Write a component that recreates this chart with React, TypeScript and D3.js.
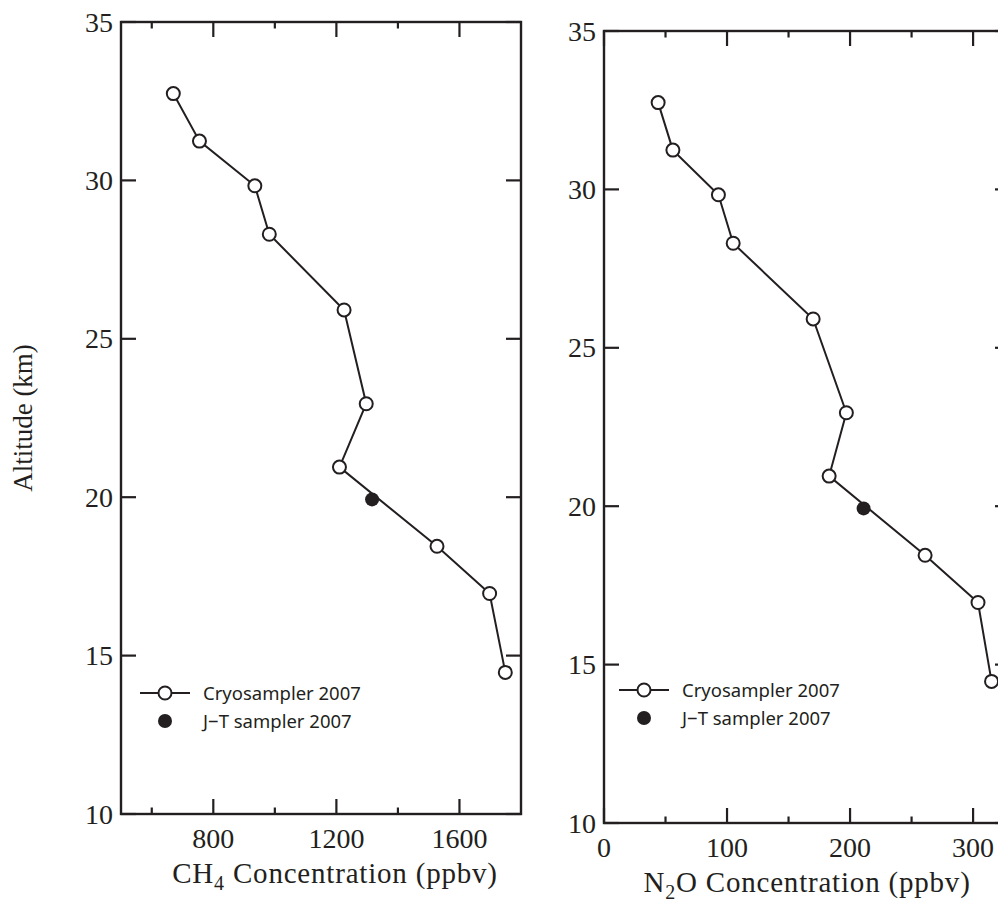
import * as d3 from "d3";

// Altitude (km) of each cryosampler sample, shared by both panels
const altitudes = [32.74, 31.24, 29.83, 28.3, 25.91, 22.95, 20.95, 18.45, 16.96, 14.47];
const ch4Cryo = [670, 755, 935, 982, 1225, 1297, 1210, 1527, 1698, 1749];
const n2oCryo = [44, 56, 93, 105, 170, 197, 183, 261, 304, 315];

// J-T sampler, one sample
const jtAltitudes = [19.93];
const ch4JT = [1316];
const n2oJT = [211];

const altTicks = [10, 15, 20, 25, 30, 35];
const ch4Major = [800, 1200, 1600];
const ch4Minor = [600, 1000, 1400];
const n2oMajor = [0, 100, 200, 300];
const n2oMinor = [50, 150, 250];

const legendLabels = ["Cryosampler 2007", "J\u2212T sampler 2007"];

const INK = "#231f20";
const SERIF = "'Liberation Serif', 'Times New Roman', serif";
const SANS = "'Noto Sans', 'Liberation Sans', sans-serif";

type PanelProps = {
    left: number;
    right: number;
    top: number;
    bottom: number;
    domain: [number, number];
    major: number[];
    minor: number[];
    values: number[];
    jt: number[];
    gas: string;
    sub: string;
    titleShift: number;
    legend: {x: number; y: number};
};

function Panel(p: PanelProps) {
    const x = d3.scaleLinear().domain(p.domain).range([p.left, p.right]);
    const y = d3.scaleLinear().domain([10, 35]).range([p.bottom, p.top]);
    const pts = p.values.map((v, i) => ({v, a: altitudes[i]}));
    const line = d3
        .line<{v: number; a: number}>()
        .x((d) => x(d.v))
        .y((d) => y(d.a));

    const majorLen = 15;
    const minorLen = 6.5;
    const cx = (p.left + p.right) / 2 + p.titleShift;

    return (
        <g>
            {/* x ticks, bottom and top, pointing inward */}
            {p.major.map((t) => (
                <g key={"M" + t} stroke={INK} strokeWidth={2.2}>
                    <line x1={x(t)} x2={x(t)} y1={p.bottom} y2={p.bottom - majorLen} />
                    <line x1={x(t)} x2={x(t)} y1={p.top} y2={p.top + majorLen} />
                </g>
            ))}
            {p.minor.map((t) => (
                <g key={"m" + t} stroke={INK} strokeWidth={2.2}>
                    <line x1={x(t)} x2={x(t)} y1={p.bottom} y2={p.bottom - minorLen} />
                    <line x1={x(t)} x2={x(t)} y1={p.top} y2={p.top + minorLen} />
                </g>
            ))}
            {/* y ticks on both sides */}
            {altTicks.map((t) => (
                <g key={"y" + t} stroke={INK} strokeWidth={2.2}>
                    <line x1={p.left} x2={p.left + majorLen} y1={y(t)} y2={y(t)} />
                    <line x1={p.right} x2={p.right - majorLen} y1={y(t)} y2={y(t)} />
                </g>
            ))}
            <rect
                x={p.left}
                y={p.top}
                width={p.right - p.left}
                height={p.bottom - p.top}
                fill="none"
                stroke={INK}
                strokeWidth={2.4}
            />
            {p.major.map((t) => (
                <text
                    key={"l" + t}
                    x={x(t)}
                    y={p.bottom + 34}
                    textAnchor="middle"
                    fontFamily={SERIF}
                    fontSize={28}
                    fill={INK}
                >
                    {t}
                </text>
            ))}
            {altTicks.map((t) => (
                <text
                    key={"a" + t}
                    x={p.left - 8}
                    y={y(t)}
                    dy="0.34em"
                    textAnchor="end"
                    fontFamily={SERIF}
                    fontSize={28}
                    fill={INK}
                >
                    {t}
                </text>
            ))}
            <text
                x={cx}
                y={p.bottom + 69}
                textAnchor="middle"
                fontFamily={SERIF}
                fontSize={29}
                letterSpacing={0.8}
                fill={INK}
            >
                {p.gas}
                <tspan fontSize={20} dy={7}>
                    {p.sub}
                </tspan>
                <tspan dy={-7}>{p.gas === "CH" ? " Concentration (ppbv)" : "O Concentration (ppbv)"}</tspan>
            </text>

            <path d={line(pts) ?? ""} fill="none" stroke={INK} strokeWidth={2} />
            {pts.map((d, i) => (
                <circle key={"c" + i} cx={x(d.v)} cy={y(d.a)} r={6.5} fill="#fff" stroke={INK} strokeWidth={2} />
            ))}
            {p.jt.map((v, i) => (
                <circle key={"j" + i} cx={x(v)} cy={y(jtAltitudes[i])} r={7} fill={INK} />
            ))}

            {/* legend */}
            <g fontFamily={SANS} fontSize={18.5} fill={INK}>
                <line x1={p.legend.x} x2={p.legend.x + 50} y1={p.legend.y} y2={p.legend.y} stroke={INK} strokeWidth={2} />
                <circle cx={p.legend.x + 25} cy={p.legend.y} r={6.5} fill="#fff" stroke={INK} strokeWidth={2} />
                <text x={p.legend.x + 63} y={p.legend.y} dy="0.36em">
                    {legendLabels[0]}
                </text>
                <circle cx={p.legend.x + 25} cy={p.legend.y + 28} r={7} fill={INK} />
                <text x={p.legend.x + 63} y={p.legend.y + 28} dy="0.36em">
                    {legendLabels[1]}
                </text>
            </g>
        </g>
    );
}

export default function App() {
    return (
        <svg
            width={998}
            height={915}
            style={{position: "absolute", left: 0, top: 0, display: "block", background: "#fff"}}
        >
            <text
                transform="translate(32,418) rotate(-90)"
                textAnchor="middle"
                fontFamily={SERIF}
                fontSize={27}
                fill={INK}
            >
                Altitude (km)
            </text>
            <Panel
                left={121}
                right={521}
                top={22}
                bottom={814}
                domain={[500, 1800]}
                major={ch4Major}
                minor={ch4Minor}
                values={ch4Cryo}
                jt={ch4JT}
                gas="CH"
                sub="4"
                titleShift={14}
                legend={{x: 140, y: 693}}
            />
            <Panel
                left={604}
                right={1010}
                top={31}
                bottom={823}
                domain={[0, 330]}
                major={n2oMajor}
                minor={n2oMinor}
                values={n2oCryo}
                jt={n2oJT}
                gas="N"
                sub="2"
                titleShift={0}
                legend={{x: 619, y: 690}}
            />
        </svg>
    );
}
